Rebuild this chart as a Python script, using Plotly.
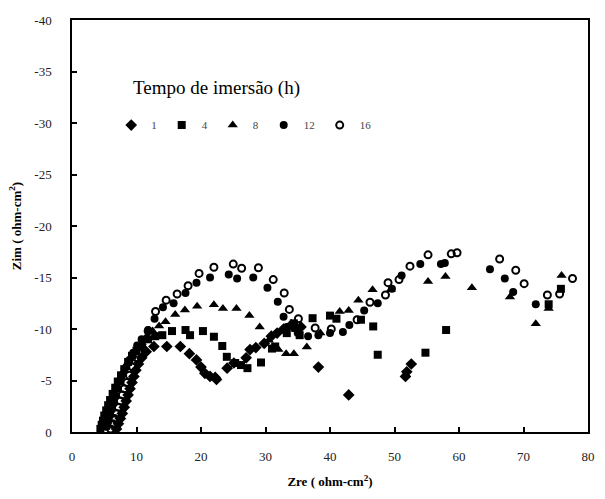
import plotly.graph_objects as go

# ---- data (Zre, Zim) per immersion time ----
zre_1 = [6.9, 7.2, 7.5, 7.8, 8.1, 8.4, 8.7, 9.0, 9.3, 9.6, 9.9, 10.3, 10.8, 11.5, 12.7,
         14.7, 16.8, 18.2, 19.3, 20.0, 20.6, 21.4, 22.2, 22.4, 24.05, 25.1, 27.0, 27.6, 28.5, 29.8, 30.9,
         31.8, 32.8, 34.0, 35.5, 38.2, 42.9, 51.7, 51.9, 52.6]
zim_1 = [-0.3, -0.8, -1.3, -1.8, -2.4, -3.0, -3.6, -4.2, -4.8, -5.4, -6.0, -6.6, -7.2, -7.8, -8.3,
         -8.3, -8.3, -7.6, -7.0, -6.3, -5.7, -5.4, -5.3, -5.1, -6.2, -6.7, -7.2, -8.0, -8.2, -8.6, -9.3,
         -9.6, -10.0, -10.4, -10.2, -6.3, -3.6, -5.4, -5.85, -6.6]

zre_4 = [4.4, 4.6, 4.8, 5.0, 5.3, 5.6, 5.9, 6.3, 6.7, 7.1, 7.6, 8.1, 8.7, 9.3, 10.0, 10.8, 11.8, 12.9, 14.0,
         15.5, 17.6, 18.3, 20.3, 22.0, 23.3, 24.0, 25.3, 26.2, 27.2, 29.3, 31.0, 31.5, 33.3, 34.4, 34.6,
         35.3, 37.3, 40.0, 41.0, 44.8, 46.7, 47.4, 54.8, 58.0, 73.9, 75.8]
zim_4 = [-0.3, -0.7, -1.1, -1.6, -2.1, -2.6, -3.1, -3.7, -4.3, -4.9, -5.5, -6.1, -6.8, -7.4, -7.9, -8.4, -9.0, -9.3, -9.4,
         -9.8, -9.9, -9.4, -9.8, -9.25, -8.35, -7.3, -6.7, -6.5, -6.2, -6.75, -8.1, -8.3, -9.6, -10.55, -10.1,
         -9.4, -11.05, -11.3, -11.0, -10.9, -10.25, -7.5, -7.7, -9.9, -12.4, -13.9]

zre_8 = [4.9, 5.1, 5.3, 5.6, 5.9, 6.2, 6.5, 6.9, 7.3, 7.8, 8.3, 8.8, 9.4, 10.1, 10.8, 11.6, 12.5, 13.5, 14.5,
         16.0, 17.5, 19.4, 22.0, 23.4, 25.5, 27.5, 29.1, 30.5, 32.0, 33.2, 34.4, 36.4, 38.5, 41.5, 42.9,
         44.4, 46.6, 49.4, 55.2, 57.9, 62.0, 67.9, 71.9, 73.9, 75.9]
zim_8 = [-0.4, -0.9, -1.4, -2.0, -2.6, -3.2, -3.8, -4.4, -5.0, -5.7, -6.3, -6.9, -7.5, -8.1, -8.7, -9.3, -9.8, -10.3, -10.7,
         -11.4, -11.85, -12.2, -12.35, -12.0, -12.0, -11.3, -10.2, -8.9, -8.0, -7.6, -7.6, -8.25, -9.6, -11.7, -11.8,
         -12.8, -13.8, -13.8, -14.6, -15.1, -14.0, -13.1, -10.5, -12.0, -15.2]

zre_12 = [5.4, 5.6, 5.9, 6.2, 6.5, 6.8, 7.1, 7.5, 7.9, 8.4, 8.9, 9.5, 10.1, 10.8, 11.8, 12.8, 14.1, 15.75, 17.6,
          19.3, 21.4, 24.3, 25.6, 28.1, 30.3, 31.9, 32.8, 33.3, 35.0, 36.6, 38.2, 40.0, 42.0, 43.0, 45.3,
          47.4, 49.6, 51.1, 54.0, 57.2, 57.8, 64.8, 67.1, 68.4, 71.9]
zim_12 = [-0.5, -1.0, -1.6, -2.2, -2.8, -3.5, -4.2, -4.9, -5.6, -6.3, -7.0, -7.7, -8.4, -9.0, -9.9, -11.0, -12.1, -12.5, -13.5,
          -14.5, -15.0, -15.3, -14.9, -15.0, -14.0, -12.65, -11.2, -10.2, -9.6, -9.3, -9.4, -9.6, -9.7, -10.4, -11.8,
          -12.5, -13.9, -15.2, -16.3, -16.3, -16.4, -15.8, -14.9, -13.6, -12.4]

zre_16 = [6.0, 6.3, 6.6, 6.9, 7.2, 7.5, 7.8, 8.1, 8.5, 8.9, 9.4, 10.0, 10.8, 11.8, 12.95, 14.6, 16.3, 18.0, 19.7,
          22.0, 25.0, 26.3, 28.9, 31.2, 32.9, 33.7, 35.1, 37.7, 40.2, 44.2, 46.2, 48.6, 49.0, 50.7, 52.4,
          55.2, 58.8, 59.7, 66.3, 68.8, 70.1, 73.7, 75.6, 77.6]
zim_16 = [-0.3, -0.8, -1.3, -1.8, -2.4, -3.0, -3.6, -4.2, -4.8, -5.5, -6.3, -7.2, -8.3, -9.8, -11.7, -12.8, -13.4, -14.2, -15.4,
          -16.0, -16.3, -15.9, -15.95, -14.8, -13.5, -11.9, -11.0, -10.1, -10.0, -10.9, -12.6, -13.3, -14.5, -14.8, -16.1,
          -17.2, -17.3, -17.4, -16.8, -15.7, -14.4, -13.3, -13.4, -14.9]

legend_names = ["1", "4", "8", "12", "16"]
x_ticks = [0, 10, 20, 30, 40, 50, 60, 70, 80]
y_ticks = [0, -5, -10, -15, -20, -25, -30, -35, -40]

series = [
    (zre_1, zim_1, "diamond", 9, None),
    (zre_4, zim_4, "square", 8, None),
    (zre_8, zim_8, "triangle-up", 9, None),
    (zre_12, zim_12, "circle", 8, None),
    (zre_16, zim_16, "circle-open", 7, 2),
]

fig = go.Figure()
for name, (xs, ys, sym, sz, lw) in zip(legend_names, series):
    marker = dict(symbol=sym, size=sz, color="black")
    if lw:
        marker["line"] = dict(width=lw, color="black")
    fig.add_trace(go.Scatter(x=xs, y=ys, mode="markers", name=name, marker=marker))

serif = "Liberation Serif, Times New Roman, serif"
fig.update_layout(
    width=605, height=499,
    margin=dict(l=72, r=10, t=20, b=67),
    paper_bgcolor="white", plot_bgcolor="white",
    font=dict(family=serif, color="#222", size=13),
    showlegend=True,
    legend=dict(orientation="h", x=0.076, y=0.745, xanchor="left", yanchor="middle",
                font=dict(family=serif, size=11, color="#444"),
                itemwidth=30, bgcolor="rgba(0,0,0,0)"),
    annotations=[dict(text="Tempo de imersão (h)", xref="paper", yref="paper",
                      x=0.114, y=0.835, xanchor="left", yanchor="middle", showarrow=False,
                      font=dict(family=serif, size=19, color="black"))],
)
fig.update_xaxes(range=[0, 80], tickvals=x_ticks, ticktext=[str(v) for v in x_ticks],
                 ticks="inside", ticklen=5, tickwidth=1.5, tickcolor="black",
                 showline=True, linewidth=1.5, linecolor="black", mirror=True,
                 showgrid=False, zeroline=False, ticklabelstandoff=12,
                 title=dict(text="<b>Zre ( ohm-cm<sup>2</sup>)</b>", font=dict(family=serif, size=13, color="black"), standoff=14))
fig.update_yaxes(range=[0, -40], tickvals=y_ticks, ticktext=[str(v) for v in y_ticks],
                 ticks="inside", ticklen=5, tickwidth=1.5, tickcolor="black",
                 showline=True, linewidth=1.5, linecolor="black", mirror=True,
                 showgrid=False, zeroline=False, ticklabelstandoff=16,
                 title=dict(text="<b>Zim ( ohm-cm<sup>2</sup>)</b>", font=dict(family=serif, size=13, color="black"), standoff=10))

fig.write_html("out.html")
